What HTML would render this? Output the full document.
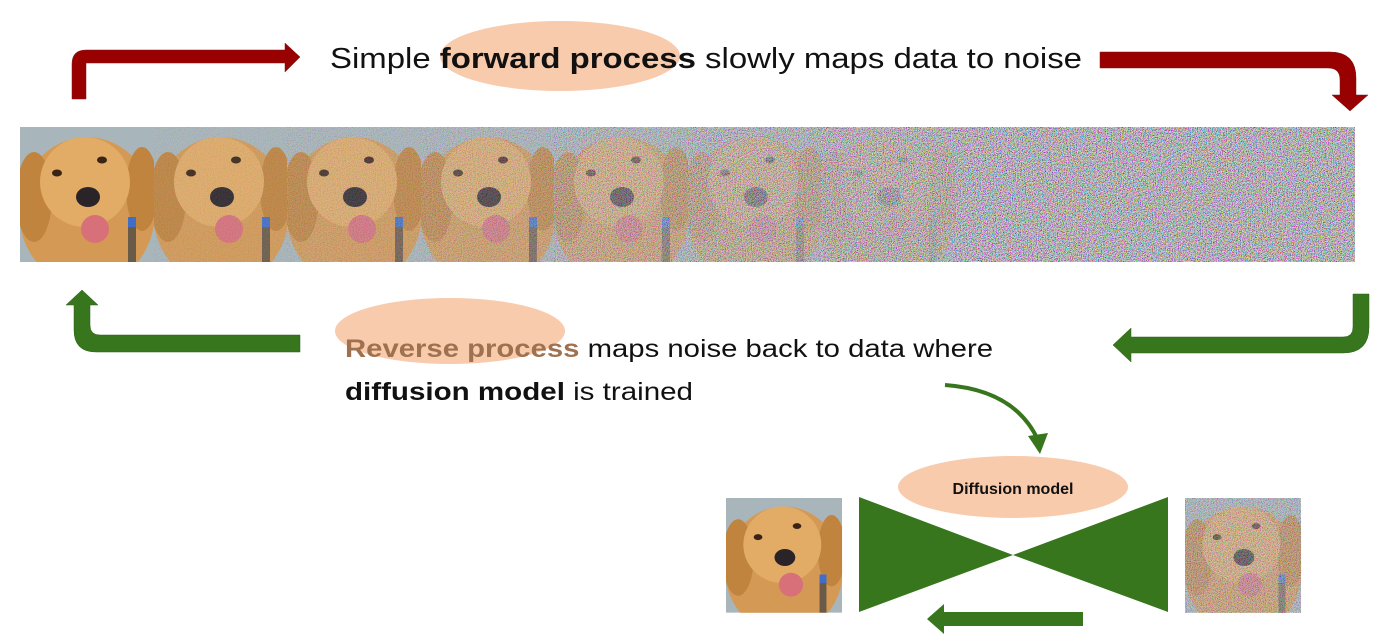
<!DOCTYPE html>
<html><head><meta charset="utf-8"><style>
html,body{margin:0;padding:0;background:#fff;width:1384px;height:639px;overflow:hidden}
svg{display:block}
text{font-family:"Liberation Sans",sans-serif}
</style></head><body>
<svg width="1384" height="639" viewBox="0 0 1384 639" xmlns="http://www.w3.org/2000/svg">
<defs>
<filter id="nz" x="0" y="0" width="100%" height="100%">
<feTurbulence type="fractalNoise" baseFrequency="1.2" numOctaves="1" seed="3"/>
<feColorMatrix type="matrix" values="2.4 0 0 0 -0.72  0 2.4 0 0 -0.74  0 0 2.4 0 -0.7  0 0 0 0 1"/>
</filter>
<clipPath id="tc"><rect x="0" y="0" width="134" height="135"/></clipPath>
<g id="dog" clip-path="url(#tc)">
<rect x="0" y="0" width="134" height="135" fill="#a8b6bb"/>
<ellipse cx="67" cy="85" rx="68" ry="75" fill="#d49a55"/>
<ellipse cx="14" cy="70" rx="18" ry="45" fill="#c0843e"/>
<ellipse cx="122" cy="62" rx="16" ry="42" fill="#c0843e"/>
<ellipse cx="65" cy="55" rx="45" ry="45" fill="#e2ac66"/>
<ellipse cx="37" cy="46" rx="5" ry="3.5" fill="#3a2416"/>
<ellipse cx="82" cy="33" rx="5" ry="3.5" fill="#3a2416"/>
<ellipse cx="68" cy="70" rx="12" ry="10" fill="#2a2428"/>
<ellipse cx="75" cy="102" rx="14" ry="14" fill="#d8707a"/>
<rect x="108" y="90" width="8" height="10" fill="#3f6ec8"/>
<rect x="108" y="100" width="8" height="35" fill="#6a5a48"/>
</g>
</defs>

<ellipse cx="560" cy="56" rx="120" ry="35" fill="#f8cbad"/>
<text x="330" y="68" font-size="29" textLength="752" lengthAdjust="spacingAndGlyphs" fill="#111">Simple <tspan font-weight="bold">forward process</tspan> slowly maps data to noise</text>

<path d="M72 99 V64 Q72 50 86 50 H285 V43 L300 57 L285 72 V63 H86 V99 Z" fill="#990000" stroke="#7a1a1a" stroke-width="0.5"/>
<path d="M1100 52 H1330 Q1356 52 1356 78 V95 H1368 L1350 111 L1332 95 H1340 V80 Q1340 68 1328 68 H1100 Z" fill="#990000" stroke="#7a1a1a" stroke-width="0.5"/>

<rect x="20" y="127" width="1335" height="135" fill="#8e8a8a"/>
<use href="#dog" x="20" y="127"/>
<use href="#dog" x="154" y="127"/>
<use href="#dog" x="287" y="127"/>
<use href="#dog" x="421" y="127"/>
<use href="#dog" x="554" y="127"/>
<use href="#dog" x="688" y="127"/>
<use href="#dog" x="821" y="127"/>
<rect x="154" y="127" width="134" height="135" filter="url(#nz)" opacity="0.12"/>
<rect x="287" y="127" width="134" height="135" filter="url(#nz)" opacity="0.22"/>
<rect x="421" y="127" width="134" height="135" filter="url(#nz)" opacity="0.35"/>
<rect x="554" y="127" width="134" height="135" filter="url(#nz)" opacity="0.55"/>
<rect x="688" y="127" width="134" height="135" filter="url(#nz)" opacity="0.72"/>
<rect x="821" y="127" width="134" height="135" filter="url(#nz)" opacity="0.88"/>
<rect x="955" y="127" width="400" height="135" filter="url(#nz)"/>

<path d="M300 335 H100 Q90 335 90 325 V305 H98 L82 290 L66 305 H74 V330 Q74 352 96 352 H300 Z" fill="#38761d" stroke="#2f5f1a" stroke-width="0.5"/>
<path d="M1369 294 V327 Q1369 353 1343 353 H1131 V362 L1113 345 L1131 328 V337 H1343 Q1353 337 1353 327 V294 Z" fill="#38761d" stroke="#2f5f1a" stroke-width="0.5"/>

<ellipse cx="450" cy="331" rx="115" ry="33" fill="#f8cbad"/>
<text x="345" y="357" font-size="25" textLength="648" lengthAdjust="spacingAndGlyphs" fill="#111"><tspan font-weight="bold" fill="#a0714f">Reverse process</tspan> maps noise back to data where</text>
<text x="345" y="400" font-size="25" textLength="348" lengthAdjust="spacingAndGlyphs" fill="#111"><tspan font-weight="bold">diffusion model</tspan> is trained</text>

<path d="M945 385 Q1015 390 1038 440" fill="none" stroke="#38761d" stroke-width="4"/>
<path d="M1028 436 L1040 454 L1048 433 Z" fill="#38761d"/>

<path d="M859 497 L1013 555 L1168 497 V612 L1013 555 L859 612 Z" fill="#38761d"/>
<ellipse cx="1013" cy="487" rx="115" ry="31" fill="#f8cbad"/>
<text x="1013" y="494" font-size="16" font-weight="bold" text-anchor="middle" fill="#111">Diffusion model</text>

<g transform="translate(726,498) scale(0.866,0.85)"><use href="#dog"/></g>
<g transform="translate(1185,498) scale(0.866,0.85)"><use href="#dog"/></g>
<rect x="1185" y="498" width="116" height="115" filter="url(#nz)" opacity="0.5"/>

<path d="M1083 612 H944 V604 L927 619 L944 634 V626 H1083 Z" fill="#38761d"/>
</svg>
</body></html>
